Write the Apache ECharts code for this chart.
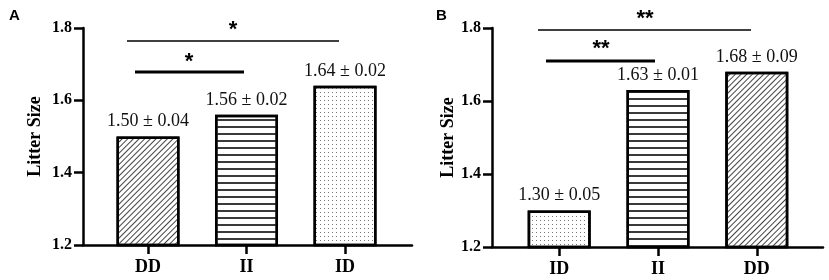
<!DOCTYPE html>
<html>
<head>
<meta charset="utf-8">
<script src="https://cdn.jsdelivr.net/npm/echarts@6/dist/echarts.min.js"></script>
<style>
  html, body { margin: 0; padding: 0; background: #fff; }
  #chart { width: 829px; height: 280px; }
</style>
</head>
<body>
<div id="chart"></div>
<script>
// panel A
var categoriesA = ['DD', 'II', 'ID'];
var valuesA = [1.50, 1.56, 1.64];
var errorsA = ['0.04', '0.02', '0.02'];
// panel B
var categoriesB = ['ID', 'II', 'DD'];
var valuesB = [1.30, 1.63, 1.68];
var errorsB = ['0.05', '0.01', '0.09'];
// significance marks (top bracket, lower bracket)
var signifA = ['*', '*'];
var signifB = ['**', '**'];

var serif = '"Liberation Serif", "Times New Roman", serif';
var sans = '"Liberation Sans", Arial, sans-serif';

// fill pattern per genotype
var patterns = {
    DD: { symbol: 'rect', symbolSize: 1, color: '#444', dashArrayX: [1, 0], dashArrayY: [1, 2.5], rotation: -Math.PI / 4 },
    II: { symbol: 'rect', symbolSize: 1, color: '#3a3a3a', dashArrayX: [1, 0], dashArrayY: [1.5, 5], rotation: 0 },
    ID: { symbol: 'rect', symbolSize: 1, color: '#777', dashArrayX: [1, 3], dashArrayY: [1, 3], rotation: 0 }
};

function makeX(gridIndex, cats, min, max) {
    return {
        type: 'value', gridIndex: gridIndex, min: min, max: max,
        splitLine: { show: false },
        axisLine: { show: true, onZero: false, lineStyle: { color: '#000', width: 2.5 } },
        axisTick: { show: true, customValues: [0, 1, 2], length: 9, lineStyle: { color: '#000', width: 2.5 } },
        axisLabel: {
            customValues: [0, 1, 2], margin: 13,
            formatter: function (v) { return cats[Math.round(v)]; },
            fontFamily: serif, fontWeight: 'bold', fontSize: 18, color: '#000'
        }
    };
}

function makeY(gridIndex, nameGap) {
    return {
        type: 'value', gridIndex: gridIndex, min: 1.2, max: 1.8, interval: 0.2,
        name: 'Litter Size', nameLocation: 'middle', nameRotate: 90, nameGap: nameGap,
        nameTextStyle: { fontFamily: serif, fontWeight: 'bold', fontSize: 18, color: '#000' },
        splitLine: { show: false },
        axisLine: { show: true, onZero: false, lineStyle: { color: '#000', width: 2.5 } },
        axisTick: { show: true, length: 9, lineStyle: { color: '#000', width: 2.5 } },
        axisLabel: {
            margin: 11, formatter: function (v) { return v.toFixed(1); },
            fontFamily: serif, fontWeight: 'bold', fontSize: 16, color: '#000'
        }
    };
}

function makeSeries(idx, cats, vals, errs) {
    return {
        type: 'bar', xAxisIndex: idx, yAxisIndex: idx, barWidth: 63,
        data: vals.map(function (v, i) {
            return { value: [i, v], itemStyle: { decal: patterns[cats[i]] } };
        }),
        itemStyle: { color: '#fff', borderColor: '#000', borderWidth: 2.5 },
        label: {
            show: true, position: 'top', distance: 6,
            fontFamily: serif, fontSize: 18, color: '#111',
            formatter: function (p) { return p.value[1].toFixed(2) + ' \u00b1 ' + errs[p.dataIndex]; }
        },
        emphasis: { disabled: true },
        silent: true
    };
}

function bracket(x1, x2, y, w) {
    return { type: 'line', shape: { x1: x1, y1: y, x2: x2, y2: y }, style: { stroke: '#000', lineWidth: w } };
}
function star(x, y, s) {
    return { type: 'text', x: x, y: y, style: { text: s, fontFamily: sans, fontWeight: 'bold', fontSize: 22, fill: '#000', align: 'center', verticalAlign: 'middle' } };
}
function panelLabel(x, y, s) {
    return { type: 'text', x: x, y: y, style: { text: s, fontFamily: sans, fontWeight: 'bold', fontSize: 15, fill: '#000', align: 'left', verticalAlign: 'top' } };
}

var chart = echarts.init(document.getElementById('chart'), null, { renderer: 'canvas' });
chart.setOption({
    backgroundColor: '#fff',
    animation: false,
    grid: [
        { left: 83, top: 28, width: 329, height: 217 },
        { left: 492, top: 28, width: 331, height: 219 }
    ],
    xAxis: [makeX(0, categoriesA, -0.66, 2.68), makeX(1, categoriesB, -0.68, 2.67)],
    yAxis: [makeY(0, 39), makeY(1, 35)],
    series: [
        makeSeries(0, categoriesA, valuesA, errorsA),
        makeSeries(1, categoriesB, valuesB, errorsB)
    ],
    graphic: [
        panelLabel(9, 8, 'A'),
        panelLabel(436, 8, 'B'),
        bracket(127, 339, 41, 1.5),
        bracket(135, 244, 72, 3),
        star(233, 30, signifA[0]),
        star(189, 62, signifA[1]),
        bracket(538, 751, 30, 1.5),
        bracket(546, 655, 61, 3),
        star(645, 19, signifB[0]),
        star(601, 49, signifB[1])
    ]
});
</script>
</body>
</html>
